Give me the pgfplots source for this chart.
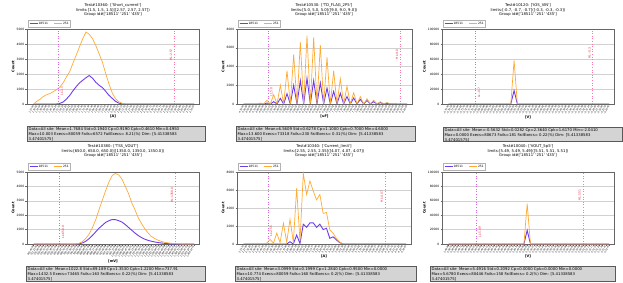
\documentclass[border=0pt]{standalone}
\usepackage{pgfplots}
\pgfplotsset{compat=1.18}
\usepackage{fontspec}
\setmainfont{DejaVu Sans}
\definecolor{cpurple}{RGB}{110,60,235}
\definecolor{corange}{RGB}{255,170,50}
\definecolor{cll}{RGB}{215,100,225}
\definecolor{chl}{RGB}{255,120,160}
\definecolor{cred}{RGB}{235,40,60}
\newcommand{\q}{\textquotesingle}
\tikzset{lim/.style={rotate=90, font=\fontsize{3}{3}\selectfont, text=cred, inner sep=0pt}}
\pgfplotsset{
  panel/.style={
    scale only axis, width=172pt, height=75pt, anchor=north west,
    axis line style={draw=black!60, line width=0.6pt},
    ymin=0, xmin=-2, xmax=50.5,
    ymajorgrids, grid style={black!18, line width=0.4pt},
    tick style={black!60, line width=0.3pt}, major tick length=1.5pt, tick align=outside,
    xtick pos=lower, ytick pos=left,
    xtick={0,...,49},
    xticklabel style={font=\fontsize{2.3}{2.5}\selectfont, rotate=60, anchor=east, inner sep=0.3pt},
    yticklabel style={font=\fontsize{3}{3}\selectfont, inner sep=1pt, /pgf/number format/fixed, /pgf/number format/1000 sep={}},
    /pgf/number format/assume math mode=true,
    scaled y ticks=false,
    ylabel={Count},
    ylabel style={font=\fontsize{3.5}{3.5}\selectfont\bfseries, inner sep=1pt},
    xlabel style={font=\fontsize{3.5}{3.5}\selectfont\bfseries, inner sep=1pt},
    legend style={at={(0.005,1)}, anchor=south west, yshift=2pt, legend columns=-1,
      draw=black!30, fill=white, font=\fontsize{3}{3}\selectfont, inner xsep=1pt, inner ysep=0.6pt,
      nodes={inner sep=0.6pt}, /tikz/every even column/.append style={column sep=5pt}},
    legend image code/.code={\draw[##1] (0pt,0pt) -- (8pt,0pt);},
  },
  xlab/.style 2 args={xticklabel={\pgfmathparse{#1+#2*\tick}\pgfmathprintnumber[fixed,fixed zerofill,precision=4]{\pgfmathresult}}},
  xlabneg/.style 2 args={xticklabel={-\pgfmathparse{abs(#1+#2*\tick)}\pgfmathprintnumber[fixed,fixed zerofill,precision=4]{\pgfmathresult}}},
  pser/.style={cpurple, line width=0.9pt},
  oser/.style={corange, line width=0.7pt},
  llline/.style={cll, dotted, line width=0.6pt, forget plot},
  hlline/.style={chl, dotted, line width=0.6pt, forget plot},
}
\newcommand{\ptitle}[5]{\node[align=center, font=\fontsize{3.8}{4.7}\selectfont, anchor=north, inner sep=0pt] at (#1pt,-#2pt) {#3\\#4\\Group id\#[\q18511\q\ \q251\q\ \q435\q]#5};}
\newcommand{\statbox}[6]{%
  \draw[black!65, line width=0.5pt, fill=black!17] (#1pt,-#2pt) rectangle (#3pt,-#4pt);
  \node[anchor=north west, inner sep=0pt, align=left, font=\fontsize{3.8}{4.7}\selectfont] at ({#1pt+1.5pt},{-#2pt-1.6pt}) {#5\\#6\\ 3.47401575]};
}
\begin{document}
\begin{tikzpicture}
\useasboundingbox (0,0) rectangle (623pt,-283pt);
\clip (0,0) rectangle (623pt,-283pt);

% ---------- Panel 1 ----------
\ptitle{113}{3.3}{Test\#10360: [\q Short\_current\q]}{limits:[1.5, 1.5, 1.5]([2.57, 2.57, 2.57])}{}
\begin{axis}[panel, at={(27pt,-29pt)}, ymax=5000, ytick={0,1000,...,5000}, xlab={1.27}{0.0302}, xlabel={[A]}]
\addplot[pser] coordinates {(0,0)(1,0)(2,0)(3,0)(4,0)(5,0)(6,0)(7,0)(8,40)(9,130)(10,320)(11,560)(12,870)(13,1150)(14,1400)(15,1580)(16,1750)(17,1900)(18,1720)(19,1450)(20,1250)(21,1100)(22,850)(23,580)(24,380)(25,180)(26,60)(27,10)(28,0)(29,0)(49,0)};
\addlegendentry{18511}
\addplot[oser] coordinates {(0,0)(1,180)(2,320)(3,500)(4,620)(5,700)(6,820)(7,950)(8,1130)(9,1400)(10,1800)(11,2150)(12,2700)(13,3250)(14,3800)(15,4350)(16,4800)(17,4650)(18,4350)(19,3900)(20,3350)(21,2800)(22,2050)(23,1350)(24,750)(25,350)(26,150)(27,50)(28,0)(29,0)(49,0)};
\addlegendentry{251}
\addplot[llline] coordinates {(7.6,0)(7.6,5000)};
\addplot[hlline] coordinates {(43,0)(43,5000)};
\node[lim] at (axis cs:8.6,870) {LL:1.5};
\node[lim] at (axis cs:42,3270) {HL:2.57};
\end{axis}
\statbox{27}{126}{205}{141}{Data=All site\ \ Mean=1.7684 Std=0.1940 Cp=0.9190 Cpk=0.4610 Min=0.4950}{Max=10.003 Execs=80059 Fails=6572 FailExecs= 8.21(\%) Dim: [5.41338583}

% ---------- Panel 2 ----------
\ptitle{324}{3.3}{Test\#10530: [\q TD\_FLAG\_2P5\q]}{limits:[5.0, 5.0, 5.0]([9.0, 9.0, 9.0])}{}
\begin{axis}[panel, at={(237pt,-29pt)}, width=175pt, ymax=8000, ytick={0,2000,...,8000}, xlab={4.3}{0.1}, xlabel={[uF]}]
\addplot[pser] coordinates {(0,0)(4,0)(5,20)(6,0)(7,100)(8,0)(9,250)(10,0)(11,600)(12,0)(13,1100)(14,0)(15,2000)(16,0)(17,2500)(18,0)(19,2750)(20,0)(21,2500)(22,0)(23,2250)(24,0)(25,1700)(26,0)(27,1350)(28,0)(29,1150)(30,0)(31,800)(32,0)(33,640)(34,0)(35,500)(36,0)(37,380)(38,0)(39,250)(40,0)(41,150)(42,0)(43,80)(44,0)(45,30)(46,0)(49,0)};
\addlegendentry{18511}
\addplot[oser] coordinates {(0,0)(4,0)(5,100)(6,0)(7,400)(8,0)(9,1000)(10,0)(11,2000)(12,0)(13,3550)(14,0)(15,5300)(16,0)(17,6600)(18,0)(19,7300)(20,0)(21,7100)(22,0)(23,6300)(24,0)(25,5000)(26,0)(27,3550)(28,0)(29,2700)(30,0)(31,1900)(32,0)(33,1200)(34,0)(35,800)(36,0)(37,560)(38,0)(39,400)(40,0)(41,250)(42,0)(43,150)(44,0)(45,60)(46,0)(47,20)(48,0)(49,0)};
\addlegendentry{251}
\addplot[llline] coordinates {(7.3,0)(7.3,8000)};
\addplot[hlline] coordinates {(47,0)(47,8000)};
\node[lim] at (axis cs:8.3,1280) {LL:5.0};
\node[lim] at (axis cs:46,5300) {HL:9.0};
\end{axis}
\statbox{236}{126}{415}{141}{Data=All site\ \ Mean=6.5609 Std=0.6278 Cp=1.1000 Cpk=0.7000 Min=4.6000}{Max=13.600 Execs=73318 Fails=230 FailExecs= 0.31(\%) Dim: [5.41338583}

% ---------- Panel 3 ----------
\ptitle{528}{3.3}{Test\#10120: [\q IOS\_VIN\q]}{limits:[-0.7, -0.7, -0.7]([-0.3, -0.3, -0.3])}{}
\begin{axis}[panel, at={(442pt,-29pt)}, ymax=100000, ytick={0,20000,...,100000}, xlabneg={-0.793}{0.0112}, xlabel={[V]}]
\addplot[pser] coordinates {(0,0)(19,0)(20,18000)(21,0)(49,0)};
\addlegendentry{18511}
\addplot[oser] coordinates {(0,0)(19,0)(20,58000)(21,0)(49,0)};
\addlegendentry{251}
\addplot[llline] coordinates {(8.3,0)(8.3,100000)};
\addplot[hlline] coordinates {(44,0)(44,100000)};
\node[lim] at (axis cs:9.3,15000) {LL:-0.7};
\node[lim] at (axis cs:43,68000) {HL:-0.3};
\end{axis}
\statbox{443}{127}{622}{141}{Data=All site\ \ Mean=-0.5632 Std=0.0282 Cp=2.3640 Cpk=1.6170 Min=-2.0410}{Max=0.0000 Execs=80673 Fails=181 FailExecs= 0.22(\%) Dim: [5.41338583}

% ---------- Panel 4 ----------
\ptitle{113}{144.3}{Test\#10380: [\q TSS\_VOUT\q]}{limits:[650.0, 650.0, 650.0]([1350.0, 1350.0, 1350.0])}{}
\begin{axis}[panel, at={(27pt,-172pt)}, height=72pt, ymax=5000, ytick={0,1000,...,5000}, xlab={491.4}{19.83}, xlabel={[mV]}]
\addplot[pser] coordinates {(0,0)(13,0)(14,20)(15,80)(16,200)(17,380)(18,600)(19,850)(20,1100)(21,1300)(22,1500)(23,1620)(24,1700)(25,1690)(26,1620)(27,1520)(28,1350)(29,1150)(30,950)(31,750)(32,580)(33,440)(34,330)(35,250)(36,190)(37,140)(38,100)(39,70)(40,45)(41,25)(42,10)(43,0)(49,0)};
\addlegendentry{18511}
\addplot[oser] coordinates {(0,0)(13,0)(14,60)(15,180)(16,400)(17,700)(18,1150)(19,1700)(20,2400)(21,3050)(22,3700)(23,4300)(24,4750)(25,4900)(26,4800)(27,4500)(28,4000)(29,3500)(30,2850)(31,2350)(32,1800)(33,1400)(34,1050)(35,750)(36,520)(37,380)(38,260)(39,180)(40,120)(41,80)(42,50)(43,30)(44,15)(45,5)(46,0)(49,0)};
\addlegendentry{251}
\addplot[llline] coordinates {(8,0)(8,5000)};
\addplot[hlline] coordinates {(43.3,0)(43.3,5000)};
\node[lim] at (axis cs:9,830) {LL:650.0};
\node[lim] at (axis cs:42.3,3400) {HL:1350.0};
\end{axis}
\statbox{26}{266}{205}{281}{Data=All site\ \ Mean=1022.8 Std=89.189 Cp=1.3530 Cpk=1.2200 Min=737.91}{Max=1432.5 Execs=73465 Fails=163 FailExecs= 0.22(\%) Dim: [5.41338583}

% ---------- Panel 5 ----------
\ptitle{324}{144.3}{Test\#10340: [\q Current\_limit\q]}{limits:[2.55, 2.55, 2.55]([4.07, 4.07, 4.07])}{}
\begin{axis}[panel, at={(237pt,-172pt)}, height=72pt, width=174pt, ymax=8000, ytick={0,2000,...,8000}, xlab={2.237}{0.0429}, xlabel={[A]}]
\addplot[pser] coordinates {(0,0)(12,0)(13,0)(14,250)(15,0)(16,1000)(17,50)(18,2200)(19,1850)(20,2350)(21,2350)(22,1850)(23,2200)(24,1600)(25,1750)(26,630)(27,800)(28,450)(29,150)(30,0)(49,0)};
\addlegendentry{18511}
\addplot[oser] coordinates {(0,0)(6,0)(7,100)(8,500)(9,100)(10,1200)(11,150)(12,2300)(13,200)(14,2750)(15,200)(16,6200)(17,300)(18,7850)(19,5500)(20,7000)(21,5900)(22,4900)(23,5500)(24,3400)(25,3500)(26,1550)(27,1200)(28,600)(29,200)(30,0)(49,0)};
\addlegendentry{251}
\addplot[llline] coordinates {(7.3,0)(7.3,8000)};
\addplot[hlline] coordinates {(42.7,0)(42.7,8000)};
\node[lim] at (axis cs:8.3,1440) {LL:2.55};
\node[lim] at (axis cs:41.7,5300) {HL:4.07};
\end{axis}
\statbox{235}{266}{416}{281}{Data=All site\ \ Mean=3.0999 Std=0.1999 Cp=1.2840 Cpk=0.9500 Min=0.0000}{Max=10.774 Execs=80059 Fails=160 FailExecs= 0.2(\%) Dim: [5.41338583}

% ---------- Panel 6 ----------
\ptitle{528}{144.3}{Test\#10040: [\q VOUT\_5p5\q]}{limits:[5.49, 5.49, 5.49]([5.51, 5.51, 5.51])}{}
\begin{axis}[panel, at={(442pt,-172pt)}, height=72pt, ymax=100000, ytick={0,20000,...,100000}, xlab={5.4848}{0.000615}, xlabel={[V]}]
\addplot[pser] coordinates {(0,0)(23,0)(24,19000)(25,0)(49,0)};
\addlegendentry{18511}
\addplot[oser] coordinates {(0,0)(23,0)(24,56000)(25,0)(49,0)};
\addlegendentry{251}
\addplot[llline] coordinates {(8.5,0)(8.5,100000)};
\addplot[hlline] coordinates {(41,0)(41,100000)};
\node[lim] at (axis cs:9.5,16700) {LL:5.49};
\node[lim] at (axis cs:40,68000) {HL:5.51};
\end{axis}
\statbox{430}{266}{615}{281}{Data=All site\ \ Mean=5.4916 Std=0.2092 Cp=0.0000 Cpk=0.0000 Min=0.0000}{Max=5.6780 Execs=80446 Fails=158 FailExecs= 0.2(\%) Dim: [5.41338583}
\end{tikzpicture}
\end{document}
